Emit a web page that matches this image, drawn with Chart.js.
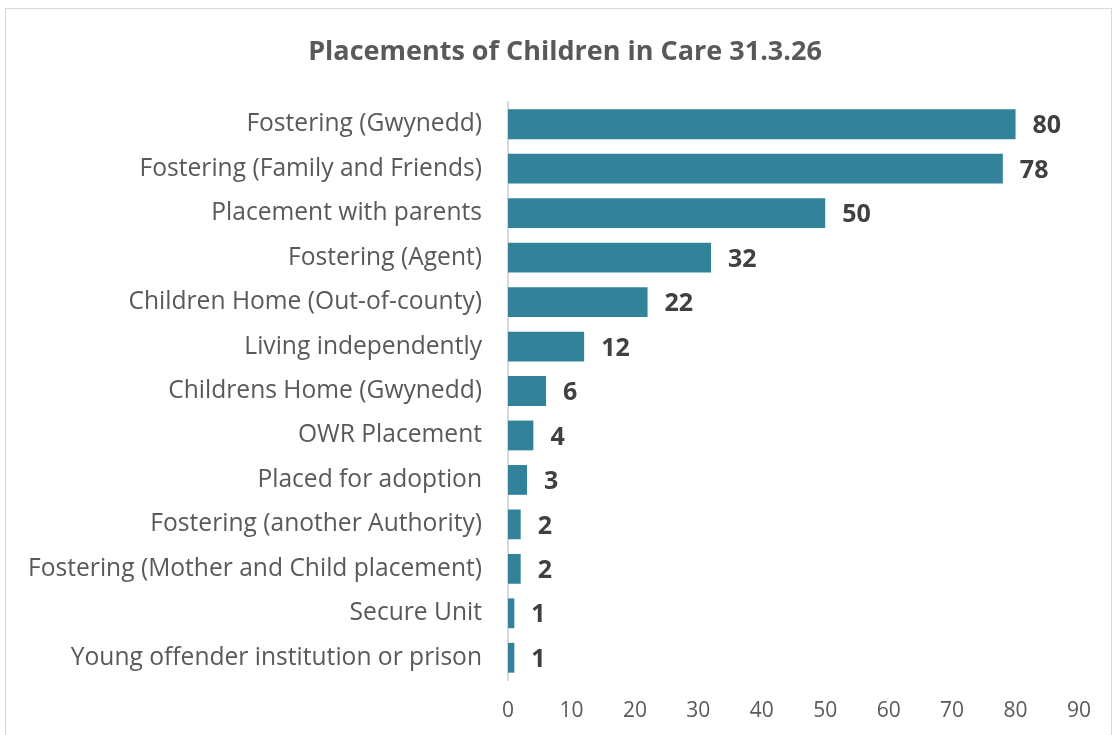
<!DOCTYPE html>
<html>
<head>
<meta charset="utf-8">
<script src="https://cdn.jsdelivr.net/npm/chart.js@4.4.1/dist/chart.umd.min.js"></script>
<style>
  body { margin: 0; background: #fff; }
  #wrap { position: relative; width: 1120px; height: 735px; }
  #frame { position: absolute; left: 5px; top: 8px; width: 1105px; height: 740px; border: 1px solid #d9d9d9; pointer-events: none; }
  #title { position: absolute; left: 10px; width: 1110px; top: 33px; text-align: center;
           font: bold 27px "Open Sans"; color: #595959; line-height: 34px; }
</style>
</head>
<body>
<div id="wrap">
  <canvas id="c" width="1120" height="735"></canvas>
  <div id="title">Placements of Children in Care 31.3.26</div>
  <div id="frame"></div>
</div>
<script>
const categories = [
  'Fostering (Gwynedd)',
  'Fostering (Family and Friends)',
  'Placement with parents',
  'Fostering (Agent)',
  'Children Home (Out-of-county)',
  'Living independently',
  'Childrens Home (Gwynedd)',
  'OWR Placement',
  'Placed for adoption',
  'Fostering (another Authority)',
  'Fostering (Mother and Child placement)',
  'Secure Unit',
  'Young offender institution or prison'
];
const placements = [80, 78, 50, 32, 22, 12, 6, 4, 3, 2, 2, 1, 1];
const xMax = 90;
const xStep = 10;

// values at the end of each bar
const barValues = {
  id: 'barValues',
  afterDatasetsDraw(chart) {
    const ctx = chart.ctx;
    const meta = chart.getDatasetMeta(0);
    ctx.save();
    ctx.font = 'bold 25px "Open Sans"';
    ctx.fillStyle = '#404040';
    ctx.textAlign = 'left';
    ctx.textBaseline = 'middle';
    meta.data.forEach((bar, i) => {
      ctx.fillText(String(placements[i]), bar.x + 17, bar.y + 2);
    });
    ctx.restore();
  }
};

new Chart(document.getElementById('c'), {
  type: 'bar',
  data: {
    labels: categories,
    datasets: [{
      data: placements,
      backgroundColor: '#328399',
      borderWidth: 0,
      barPercentage: 0.67,
      categoryPercentage: 1.0
    }]
  },
  options: {
    indexAxis: 'y',
    responsive: false,
    animation: false,
    layout: { padding: { left: 0, right: 41, top: 102, bottom: 0 } },
    scales: {
      x: {
        min: 0, max: xMax,
        grid: { display: false, drawTicks: false },
        border: { display: false },
        ticks: { stepSize: xStep, color: '#595959', font: { family: 'Open Sans', size: 21 }, padding: 18 },
        afterFit(scale) { scale.height = 55; }
      },
      y: {
        grid: { display: false, drawTicks: false },
        border: { display: true, color: '#d9d9d9', width: 2 },
        ticks: { color: '#595959', font: { family: 'Open Sans', size: 24.6 }, padding: 26, autoSkip: false },
        afterFit(scale) { scale.width = 508; }
      }
    },
    plugins: {
      legend: { display: false },
      tooltip: { enabled: false },
      title: { display: false }
    }
  },
  plugins: [barValues]
});
</script>
</body>
</html>
